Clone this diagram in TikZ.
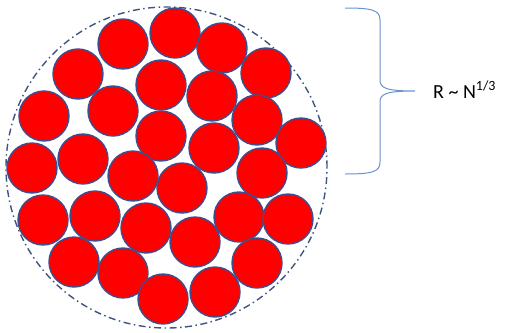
\documentclass[tikz,border=0pt]{standalone}
\usepackage{fontspec}
\setmainfont{Carlito}
\definecolor{ballred}{HTML}{FF0000}
\definecolor{balledge}{HTML}{3F4E8E}
\definecolor{hullgray}{HTML}{3D5482}
\definecolor{braceblue}{HTML}{6A93CF}
\begin{document}
\begin{tikzpicture}[x=1pt, y=-1pt,
    ball/.style={circle, draw=balledge, fill=ballred, line width=1.4pt, minimum size=50pt, inner sep=0pt},
    hull/.style={draw=hullgray, line width=1.4pt, dash pattern=on 7pt off 3.5pt on 1.5pt off 3.5pt},
    bracket/.style={draw=braceblue, line width=1pt}]
    \useasboundingbox (0,0) rectangle (508,332);

    % Dash-dotted outline around the cluster
    \node[hull, circle, minimum size=321pt, inner sep=0pt] (cluster) at (166.5,167.5) {};

    % The packed spheres
    \foreach \px/\py [count=\i] in {123/44, 175/33, 222/48, 266/73, 78/74, 161/85, 212/96,
        44/116, 113/111, 257/120, 161/136, 214/148, 301/143, 32/168, 83/159, 133/176,
        182/188, 262/173, 43/220, 95/216, 146/228, 195/242, 239/217, 288/219, 74/262,
        123/273, 163/299, 215/292, 257/263}
        \node[ball] (b\i) at (\px,\py) {};

    % Curly brace marking the radius
    \coordinate (brtop) at (345,8);
    \coordinate (brtip) at (415,91);
    \coordinate (brbot) at (345,174);
    \draw[bracket] (brtop) .. controls (372,8) and (380,10) .. (380,20)
        -- (380,80) .. controls (380,88) and (386,91) .. (brtip)
        .. controls (386,91) and (380,94) .. (380,102)
        -- (380,162) .. controls (380,172) and (372,174) .. (brbot);

    % Scaling law
    \node[anchor=base west, font=\fontsize{20}{24}\selectfont, inner sep=0pt] (law) at (433,98)
        {R \textasciitilde{} N\textsuperscript{1/3}};
\end{tikzpicture}
\end{document}
